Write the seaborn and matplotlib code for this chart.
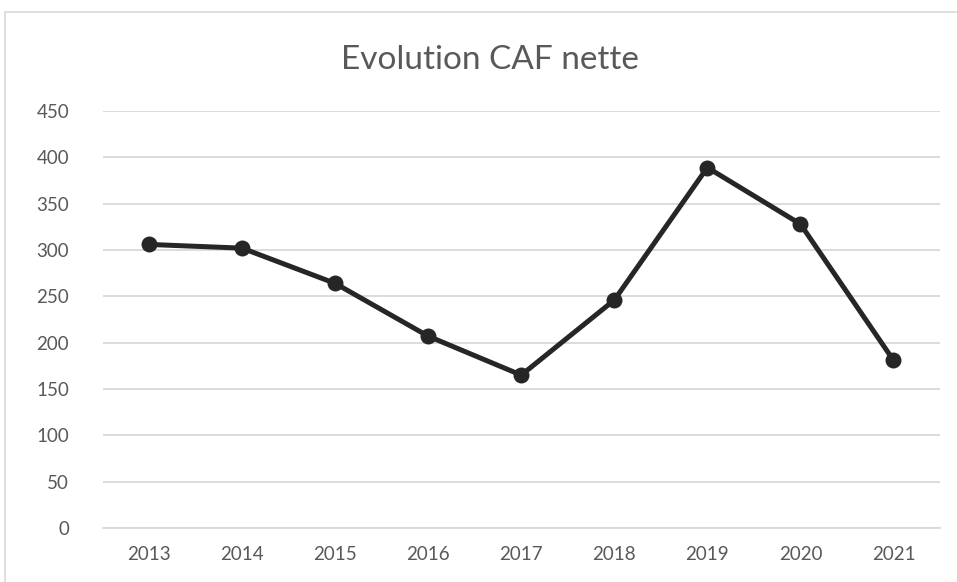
import matplotlib
matplotlib.use("Agg")
import matplotlib.pyplot as plt
import seaborn as sns
import pandas as pd
from matplotlib.patches import Rectangle

years = ["2013", "2014", "2015", "2016", "2017", "2018", "2019", "2020", "2021"]
caf_nette = [306, 302, 264, 207, 165, 246, 389, 328, 181]
yticks = [0, 50, 100, 150, 200, 250, 300, 350, 400, 450]
title = "Evolution CAF nette"

df = pd.DataFrame({"year": years, "caf": caf_nette})

sns.set_theme(style="white")
plt.rcParams["font.family"] = ["Lato", "DejaVu Sans"]

fig = plt.figure(figsize=(9.57, 5.82), dpi=100)
ax = fig.add_axes([102.5 / 957, 1 - 528 / 582, (940 - 102.5) / 957, (528 - 111) / 582])

fig.patches.append(Rectangle((5 / 957, -0.1), 1.2, 1 - 12 / 582 + 0.1, transform=fig.transFigure,
                             fill=False, edgecolor="#d9d9d9", linewidth=1.2, zorder=0))

sns.lineplot(data=df, x="year", y="caf", ax=ax, color="#262626", linewidth=3.6,
             marker="o", markersize=11.5, markeredgewidth=0, sort=False, zorder=3)

ax.set_xlim(-0.5, len(years) - 0.5)
ax.set_ylim(0, 450)
ax.set_yticks(yticks)
ax.set_yticklabels([str(v) for v in yticks])
ax.yaxis.grid(True, color="#d9d9d9", linewidth=1.3)
ax.xaxis.grid(False)
for s in ["top", "right", "left"]:
    ax.spines[s].set_visible(False)
ax.spines["bottom"].set_color("#d9d9d9")
ax.spines["bottom"].set_linewidth(1.3)
ax.tick_params(axis="both", length=0, labelsize=13.5, labelcolor="#595959")
ax.tick_params(axis="y", pad=24)
ax.tick_params(axis="x", pad=13)
ax.set_xlabel("")
ax.set_ylabel("")
for lab in ax.get_yticklabels():
    lab.set_horizontalalignment("right")

fig.text(490 / 957, 1 - 69 / 582, title, ha="center", va="baseline", fontsize=24,
         color="#595959", fontweight="normal")

fig.savefig("out.png", dpi=100, facecolor="white")
